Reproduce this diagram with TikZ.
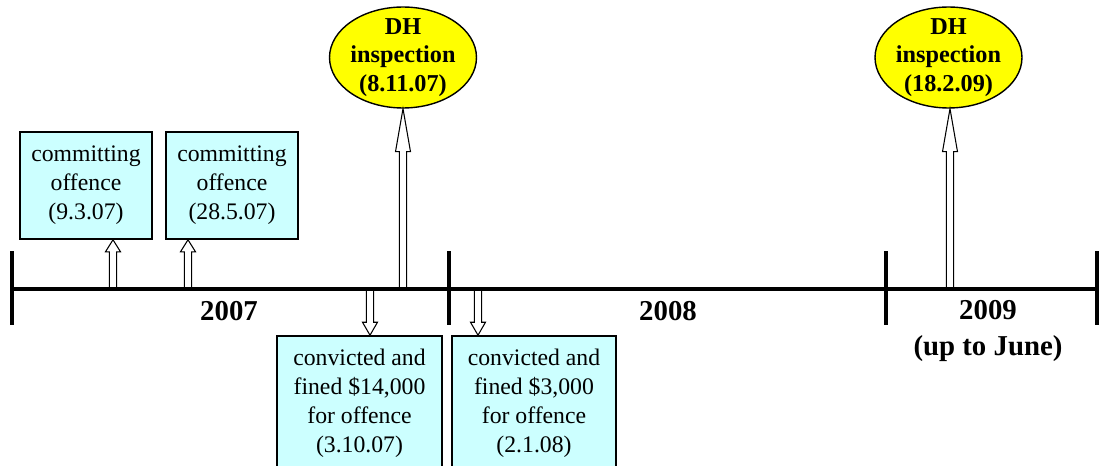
\documentclass[tikz,border=0pt]{standalone}
\usepackage{fontspec}
\setmainfont{Liberation Serif}
\usetikzlibrary{calc,shapes.geometric}
\definecolor{boxcyan}{HTML}{CCFFFF}
\definecolor{ellyellow}{HTML}{FFFF00}
\newcommand\hollowarr[3]{%
  \draw[harrow] ($(#1)+(-3.7,0)$) -- ($(#2)+(-3.7,#3)$) -- ($(#2)+(-7.5,#3)$) -- (#2)
    -- ($(#2)+(7.5,#3)$) -- ($(#2)+(3.7,#3)$) -- ($(#1)+(3.7,0)$) -- cycle;}
\begin{document}
\begin{tikzpicture}[x=0.02cm,y=-0.02cm,
  evbox/.style={draw, line width=0.9pt, fill=boxcyan, align=center,
    font=\fontsize{13.5}{16.5}\selectfont, inner sep=0pt},
  insp/.style={ellipse, draw, line width=0.8pt, fill=ellyellow, align=center,
    font=\bfseries\fontsize{13.8}{16.4}\selectfont, inner xsep=-12pt, inner ysep=-12pt,
    minimum width=2.94cm, minimum height=2.02cm},
  yearlbl/.style={font=\bfseries\fontsize{16.4}{20.5}\selectfont, align=center, inner sep=0pt},
  harrow/.style={draw, fill=white, line width=0.6pt, line join=miter},
  tline/.style={line width=2.4pt},
]
\useasboundingbox (0,0) rectangle (1099,466);

% boxes
\node[evbox, minimum width=2.64cm, minimum height=2.14cm] (b1) at (86,185.5) {committing\\offence\\(9.3.07)};
\node[evbox, minimum width=2.64cm, minimum height=2.14cm] (b2) at (232,185.5) {committing\\offence\\(28.5.07)};
\node[evbox, minimum width=3.30cm, minimum height=2.68cm] (b3) at (359.5,403) {convicted and\\fined \$14,000\\for offence\\(3.10.07)};
\node[evbox, minimum width=3.28cm, minimum height=2.68cm] (b4) at (534,403) {convicted and\\fined \$3,000\\for offence\\(2.1.08)};

% inspections
\node[insp] (e1) at (403,57.5) {DH\\inspection\\(8.11.07)};
\node[insp] (e2) at (948.5,57.5) {DH\\inspection\\(18.2.09)};

% timeline points
\coordinate (t0) at (12,289);
\coordinate (t1) at (449,289);
\coordinate (t2) at (886,289);
\coordinate (t3) at (1097,289);
\coordinate (a1) at (113,289);
\coordinate (a2) at (188,289);
\coordinate (a3) at (403,289);
\coordinate (a4) at (950,289);
\coordinate (d1) at (370,289);
\coordinate (d2) at (478,289);

% arrows
\hollowarr{a1}{a1 |- b1.south}{12}
\hollowarr{a2}{a2 |- b2.south}{12}
\hollowarr{a3}{a3 |- e1.south}{43}
\hollowarr{a4}{a4 |- e2.south}{43}
\hollowarr{d1}{d1 |- b3.north}{-13}
\hollowarr{d2}{d2 |- b4.north}{-13}

% timeline
\draw[tline] (t0) -- (t3);
\foreach \t in {t0,t1,t2,t3}
  \draw[tline] ($(\t)+(0,-38)$) -- ($(\t)+(0,36)$);

% year labels
\node[yearlbl] (y7) at (229,311) {2007};
\node[yearlbl] (y8) at (668,311) {2008};
\node[yearlbl, anchor=north] (y9) at (988,300) {2009\\(up to June)};
\end{tikzpicture}
\end{document}
